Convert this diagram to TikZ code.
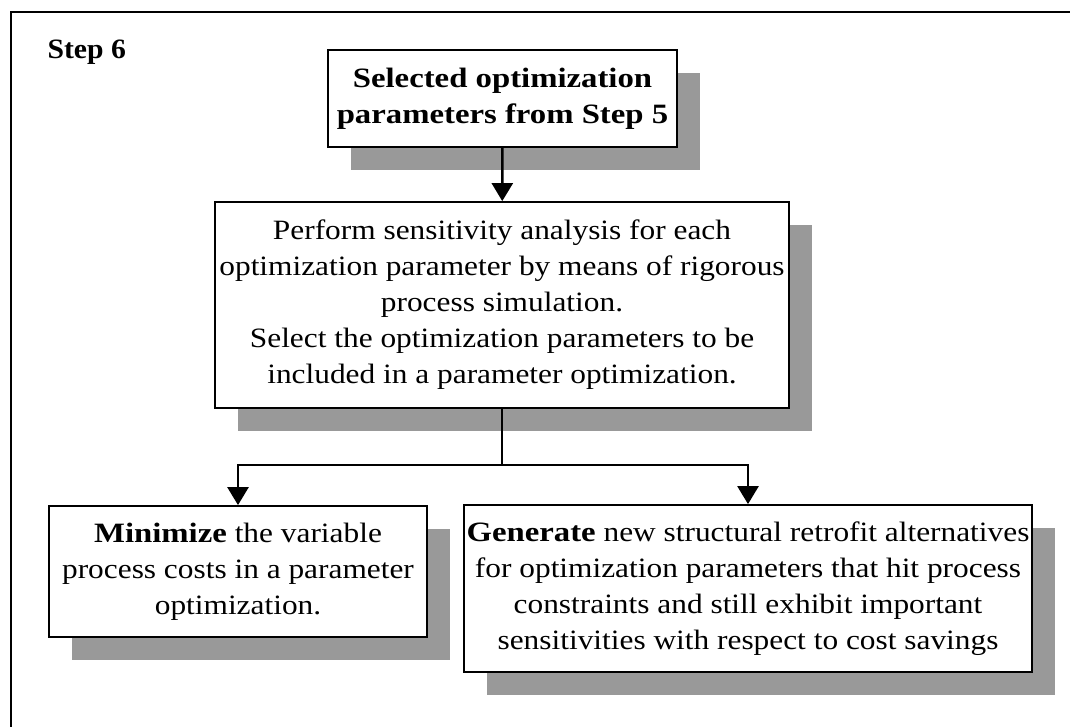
\documentclass[tikz,border=0pt]{standalone}
\usepackage{fontspec}
\setmainfont{Liberation Serif}[FakeStretch=1.12, BoldFeatures={FakeStretch=1.17}]
\newfontfamily\headingfont{Liberation Serif}[FakeStretch=1.06]
\usetikzlibrary{arrows.meta,shadows}

\tikzset{
  stepbox/.style={draw=black, line width=1.8pt, fill=white, align=center,
    inner sep=0pt, font=\fontsize{28}{36}\selectfont,
    drop shadow={shadow xshift=23pt, shadow yshift=-23pt, fill=black!40, opacity=1}},
  conn/.style={line width=2.6pt, line join=miter},
  arr/.style={conn, -{Triangle[width=21pt,length=18pt]}},
  frameline/.style={line width=1.8pt}
}

\begin{document}
\begin{tikzpicture}[x=1pt, y=-1pt]
  \useasboundingbox (0,0) rectangle (1070,726);
  \clip (0,0) rectangle (1070,726);

  % outer frame
  \draw[frameline] (11,12) rectangle (1100,760);

  \node[anchor=base west, font=\headingfont\fontsize{28}{36}\selectfont\bfseries] (title) at (44,58) {Step 6};

  \node[stepbox, minimum width=349pt, minimum height=97pt] (sel) at (502.5,98.5)
    {\textbf{Selected optimization}\\\textbf{parameters from Step 5}};

  \node[stepbox, minimum width=574pt, minimum height=206pt] (sens) at (502,305)
    {Perform sensitivity analysis for each\\
     optimization parameter by means of rigorous\\
     process simulation.\\
     Select the optimization parameters to be\\
     included in a parameter optimization.};

  \node[stepbox, minimum width=378pt, minimum height=131pt] (mini) at (238,571.5)
    {\textbf{Minimize} the variable\\
     process costs in a parameter\\
     optimization.};

  \node[stepbox, minimum width=568pt, minimum height=167pt] (gen) at (748,588.5)
    {\textbf{Generate} new structural retrofit alternatives\\
     for optimization parameters that hit process\\
     constraints and still exhibit important\\
     sensitivities with respect to cost savings};

  \coordinate (split) at (502,465);

  \draw[arr] (sel) -- (sens);
  \draw[conn] (sens.south) -- (split);
  \draw[arr] (split) -| (mini);
  \draw[arr] (split) -| (gen);
\end{tikzpicture}
\end{document}
